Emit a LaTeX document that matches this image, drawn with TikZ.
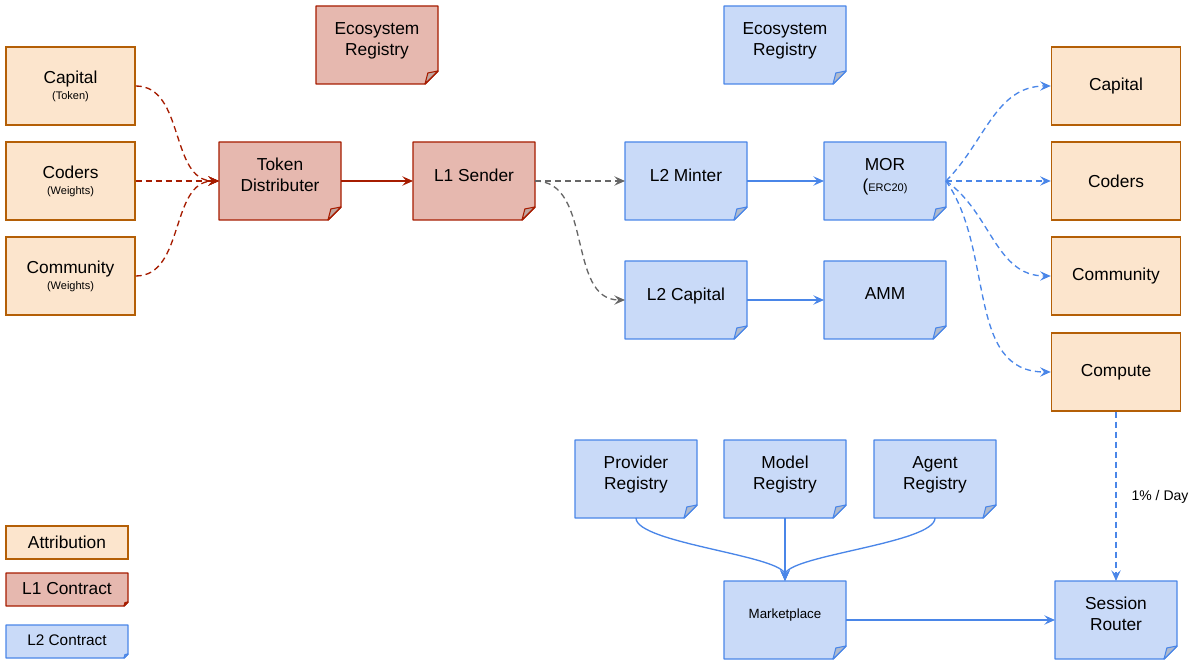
\documentclass[tikz,border=0pt]{standalone}
\usepackage{fontspec}
\setmainfont{Liberation Sans}
\usetikzlibrary{arrows.meta,backgrounds}

\definecolor{attrfill}{HTML}{FCE5CD}
\definecolor{attrline}{HTML}{B45F06}
\definecolor{lonefill}{HTML}{E6B8AF}
\definecolor{loneline}{HTML}{A61C00}
\definecolor{ltwofill}{HTML}{C9DAF8}
\definecolor{ltwoline}{HTML}{4A86E8}
\definecolor{bridgegray}{HTML}{666666}

\newcommand{\smalltxt}[1]{{\fontsize{8.25}{9}\selectfont #1}}

\tikzset{
  note/.style n args={3}{rectangle,outer sep=0pt,minimum width=91.5pt,minimum height=58.5pt,
    inner ysep=1pt,text depth=9pt,align=center,
    append after command={\pgfextra{%
      \begin{pgfinterruptpath}\begin{pgfonlayer}{background}
        \filldraw[draw=#1, fill=#2, line width=1.1pt, line join=round]
          (\tikzlastnode.north west) -- (\tikzlastnode.north east)
          -- ([yshift=#3]\tikzlastnode.south east) -- ([xshift=-#3]\tikzlastnode.south east)
          -- (\tikzlastnode.south west) -- cycle;
        \filldraw[draw=#1, fill=#1!35!gray!55, line width=0.8pt, line join=round]
          ([xshift=-#3]\tikzlastnode.south east) -- ([xshift=-0.78*#3,yshift=0.85*#3]\tikzlastnode.south east)
          -- ([yshift=#3]\tikzlastnode.south east) -- cycle;
      \end{pgfonlayer}\end{pgfinterruptpath}}}}
}

\begin{document}
\begin{tikzpicture}[x=0.75pt,y=-0.75pt,font=\fontsize{13}{15.75}\selectfont]

\tikzstyle{attr}=[rectangle,draw=attrline,fill=attrfill,line width=1.1pt,minimum width=96.75pt,minimum height=58.5pt,align=center]
\tikzstyle{lone}=[note={loneline}{lonefill}{9.75pt}]
\tikzstyle{ltwo}=[note={ltwoline}{ltwofill}{9.75pt}]
\tikzstyle{keybox}=[minimum height=24.75pt,text depth=2pt]
\tikzstyle{redflow}=[draw=loneline,line width=1pt,-{Stealth[length=8pt,width=7pt,inset=3pt]}]
\tikzstyle{grayflow}=[draw=bridgegray,line width=1pt,dash pattern=on 4.5pt off 3pt,-{Stealth[length=8pt,width=7pt,inset=3pt]}]
\tikzstyle{blueflow}=[draw=ltwoline,line width=1pt,-{Stealth[length=8pt,width=7pt,inset=3pt]}]
\tikzstyle{dashy}=[dash pattern=on 4.5pt off 3pt]

\useasboundingbox (0,0) rectangle (1192,666);

\node[attr] (capl) at (70.5,86) {Capital\\[-3.75pt]\smalltxt{(Token)}};
\node[attr] (codl) at (70.5,181) {Coders\\[-3.75pt]\smalltxt{(Weights)}};
\node[attr] (coml) at (70.5,276) {Community\\[-3.75pt]\smalltxt{(Weights)}};

\node[lone] (ecoone) at (377,45) {Ecosystem\\Registry};
\node[lone] (tokdist) at (280,181) {Token\\Distributer};
\node[lone] (sender) at (474,181) {L1 Sender};

\node[ltwo] (ecotwo) at (785,45) {Ecosystem\\Registry};
\node[ltwo] (minter) at (686,181) {L2 Minter};
\node[ltwo] (mor) at (885,181) {MOR\\(\smalltxt{ERC20)}};
\node[ltwo] (capltwo) at (686,300) {L2 Capital};
\node[ltwo] (amm) at (885,300) {AMM};

\node[attr] (capr) at (1116,86) {Capital};
\node[attr] (codr) at (1116,181) {Coders};
\node[attr] (comr) at (1116,276) {Community};
\node[attr] (compr) at (1116,372) {Compute};

\node[ltwo] (prov) at (636,479) {Provider\\Registry};
\node[ltwo] (model) at (785,479) {Model\\Registry};
\node[ltwo] (agent) at (935,479) {Agent\\Registry};
\node[ltwo] (market) at (785,620) {\fontsize{10}{12}\selectfont Marketplace};
\node[ltwo] (session) at (1116,620) {Session\\Router};
\node (rate) at (1160,497) {\fontsize{10.5}{12}\selectfont 1\% / Day};

\node[attr,minimum width=91.5pt,minimum height=24.75pt,inner ysep=1pt] (keyattr) at (67,542.5) {Attribution};
\node[note={loneline}{lonefill}{3pt},keybox] (keylone) at (67,589.5) {L1 Contract};
\node[note={ltwoline}{ltwofill}{3pt},keybox] (keyltwo) at (67,641.5) {\fontsize{11.5}{13}\selectfont L2 Contract};

\draw[redflow,dashy] (capl) to[out=0,in=180] (tokdist);
\draw[redflow,dashy] (codl) -- (tokdist);
\draw[redflow,dashy] (coml) to[out=0,in=180] (tokdist);
\draw[redflow] (tokdist) -- (sender);
\draw[grayflow] (sender) -- (minter);
\draw[grayflow] (sender) to[out=0,in=180] (capltwo);
\draw[blueflow] (minter) -- (mor);
\draw[blueflow] (capltwo) -- (amm);
\foreach \t/\a in {capr/45,codr/0,comr/-35,compr/-55}
  \draw[blueflow,dashy] (mor.east) to[out=\a,in=180] (\t);
\draw[blueflow,dashy] (compr) -- (session);
\foreach \s in {prov,model,agent}
  \draw[blueflow] (\s) to[out=-90,in=90,looseness=0.4] (market);
\draw[blueflow] (market) -- (session);

\end{tikzpicture}
\end{document}
